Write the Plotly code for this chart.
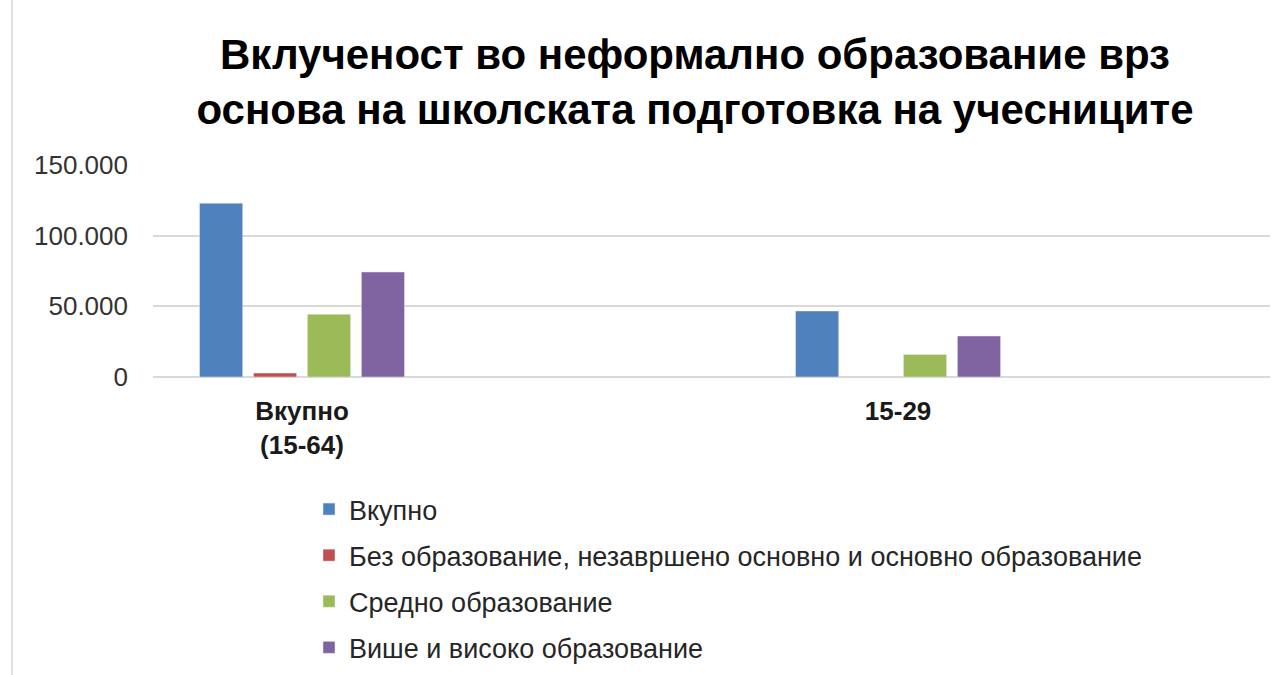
import plotly.graph_objects as go

categories = ["<b>Вкупно</b><br><b>(15-64)</b>", "<b>15-29</b>"]
series_names = [
    "Вкупно",
    "Без образование, незавршено основно и основно образование",
    "Средно образование",
    "Више и високо образование",
]
values_total = [123000, 46700]
values_none = [2800, None]
values_secondary = [44400, 15900]
values_higher = [74300, 29000]
colors = ["#4F81BD", "#C0504D", "#9BBB59", "#8064A2"]
tick_vals = [0, 50000, 100000, 150000]
tick_text = ["0", "50.000", "100.000", "150.000"]

fig = go.Figure()
for i, (name, vals) in enumerate(zip(series_names, [values_total, values_none, values_secondary, values_higher])):
    fig.add_trace(go.Bar(x=categories, y=vals, name=name, marker_color=colors[i],
                         legendgroup=f"g{i}"))

W, H = 1274, 675
ml, mr, mt, mb = 153, 4, 165, 298
pw = W - ml - mr
ph = H - mt - mb
fig.update_layout(
    width=W, height=H,
    margin=dict(l=ml, r=mr, t=mt, b=mb, autoexpand=False),
    paper_bgcolor="white", plot_bgcolor="white",
    font=dict(family="Liberation Sans, Arial, sans-serif", color="#262626"),
    title=dict(
        text="<b>Вклученост во неформално образование врз<br>основа на школската подготовка на учесниците</b>",
        x=695 / W, xanchor="center", xref="container",
        y=1 - 69 / H, yanchor="middle", yref="container",
        font=dict(size=42, color="black", family="Liberation Sans, Arial, sans-serif"),
    ),
    barmode="group", bargap=0.638, bargroupgap=0.2,
    showlegend=True,
    legend=dict(
        x=(309 - ml) / pw, xanchor="left",
        y=(H - mb - 485) / ph, yanchor="top",
        font=dict(size=27, color="#262626"),
        traceorder="grouped", tracegroupgap=8,
        itemwidth=30,
    ),
)
fig.update_xaxes(type="category", range=[-0.25, 1.624], showgrid=False, showline=False,
                 ticks="", ticklabelstandoff=16, tickfont=dict(size=26, color="#1a1a1a"))
fig.update_yaxes(range=[0, 150000], tickvals=tick_vals, ticktext=tick_text,
                 showgrid=True, gridcolor="#d9d9d9", gridwidth=1.5,
                 zeroline=True, zerolinecolor="#d9d9d9", zerolinewidth=1.5,
                 showline=False, ticks="", ticklabelstandoff=24,
                 tickfont=dict(size=26, color="#333333"))
fig.add_shape(type="line", xref="paper", yref="paper",
              x0=(12 - ml) / pw, x1=(12 - ml) / pw,
              y0=(H - mb - 0) / ph, y1=(H - mb - 675) / ph,
              line=dict(color="#d9d9d9", width=1.5))
fig.write_html("out.html", config={"displayModeBar": False},
               post_script="document.body.style.margin='0';")
